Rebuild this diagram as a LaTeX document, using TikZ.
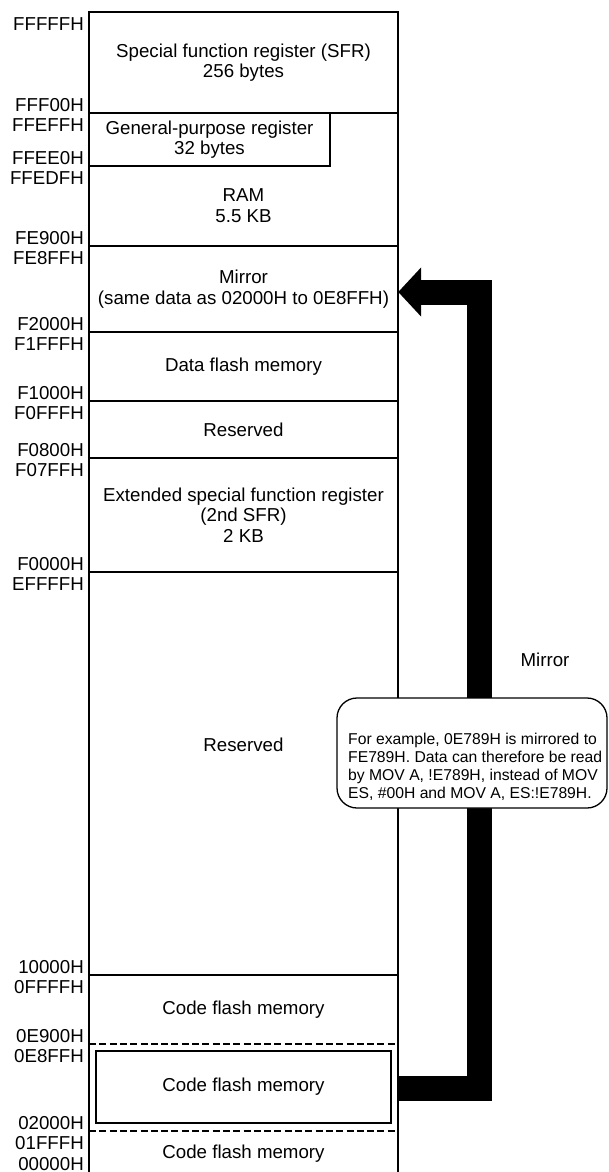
\documentclass[tikz,border=0pt]{standalone}
\usepackage{fontspec}
\setmainfont{Liberation Sans}
\usetikzlibrary{arrows.meta}
\tikzset{
  frame/.style={line width=1.3pt},
  sep/.style={line width=1.3pt},
  cut/.style={line width=1.6pt, dash pattern=on 7pt off 3.3pt},
  cell/.style={align=center, inner sep=0pt, minimum width=309pt,
    font=\fontsize{18.7pt}{20.5pt}\selectfont},
  addr/.style={anchor=base east, inner sep=0pt, font=\fontsize{18.7pt}{20.5pt}\selectfont},
  mirrorarr/.style={-{Triangle[length=23pt,width=48pt]}, line width=25pt},
  notebox/.style={draw, line width=1.3pt, rounded corners=20pt, fill=white,
    minimum width=270pt, minimum height=110pt},
  notetext/.style={align=left, inner sep=0pt, font=\fontsize{15.7pt}{18pt}\selectfont},
}
\begin{document}
\begin{tikzpicture}[x=1pt, y=-1pt]
  \useasboundingbox (0,0) rectangle (609,1172);
  % memory column
  \draw[frame] (89,1180) -- (89,12) -- (398,12) -- (398,1180);
  \foreach \y in {113,246,332,401,458,572,975}
    \draw[sep] (89,\y) -- (398,\y);
  \draw[cut] (89,1044) -- (398,1044);
  \draw[cut] (89,1131) -- (398,1131);
  % areas
  \node[cell, minimum height=101pt] (sfr) at (243.5,62.5) {Special function register (SFR)\\256 bytes};
  \node[cell, draw, line width=1.3pt, minimum width=241pt, minimum height=53pt] (gpr) at (209.5,139.5) {General-purpose register\\32 bytes};
  \node[cell] (ram) at (243.5,205.5) {RAM\\5.5 KB};
  \node[cell, minimum height=86pt] (mirror) at (243.5,289) {Mirror\\(same data as 02000H to 0E8FFH)};
  \node[cell, minimum height=69pt] (dflash) at (243.5,366.5) {Data flash memory};
  \node[cell, minimum height=57pt] (rsvd1) at (243.5,429.5) {Reserved};
  \node[cell, minimum height=114pt] (sfr2) at (243.5,515) {Extended special function register\\(2nd SFR)\\2 KB};
  \node[cell] (rsvd2) at (243.5,745) {Reserved};
  \node[cell, minimum height=69pt] (cflash1) at (243.5,1009.5) {Code flash memory};
  \node[cell, draw, line width=1.3pt, minimum width=295pt, minimum height=72pt] (cflash2) at (243.5,1087) {Code flash memory};
  \node[cell] (cflash0) at (243.5,1153.5) {Code flash memory};
  % addresses
  \node[addr] (aFFFFFH) at (84,31) {FFFFFH};
  \foreach \y/\hi/\lo in {113/FFF00H/FFEFFH, 166/FFEE0H/FFEDFH, 246/FE900H/FE8FFH,
      332/F2000H/F1FFFH, 401/F1000H/F0FFFH, 458/F0800H/F07FFH, 572/F0000H/EFFFFH,
      975/10000H/0FFFFH, 1044/0E900H/0E8FFH, 1131/02000H/01FFFH} {
    \node[addr] (a\hi) at (84,\y-1.5) {\hi};
    \node[addr] (a\lo) at (84,\y+18) {\lo};
  }
  \node[addr] (a00000H) at (84,1170) {00000H};
  % mirror arrow
  \draw[mirrorarr] ([yshift=-1.5pt]cflash2.east -| mirror.east) -- ++(81,0)
    |- ([yshift=-3pt]mirror.east);
  \node[cell, minimum width=0pt] (mirrorlbl) at (545,660) {Mirror};
  \node[notebox] (note) at (472,753) {};
  \node[notetext, anchor=north west] (notetxt) at (348,733) {For example, 0E789H is mirrored to\\FE789H. Data can therefore be read\\by MOV A, !E789H, instead of MOV\\ES, \#00H and MOV A, ES:!E789H.};
\end{tikzpicture}
\end{document}
